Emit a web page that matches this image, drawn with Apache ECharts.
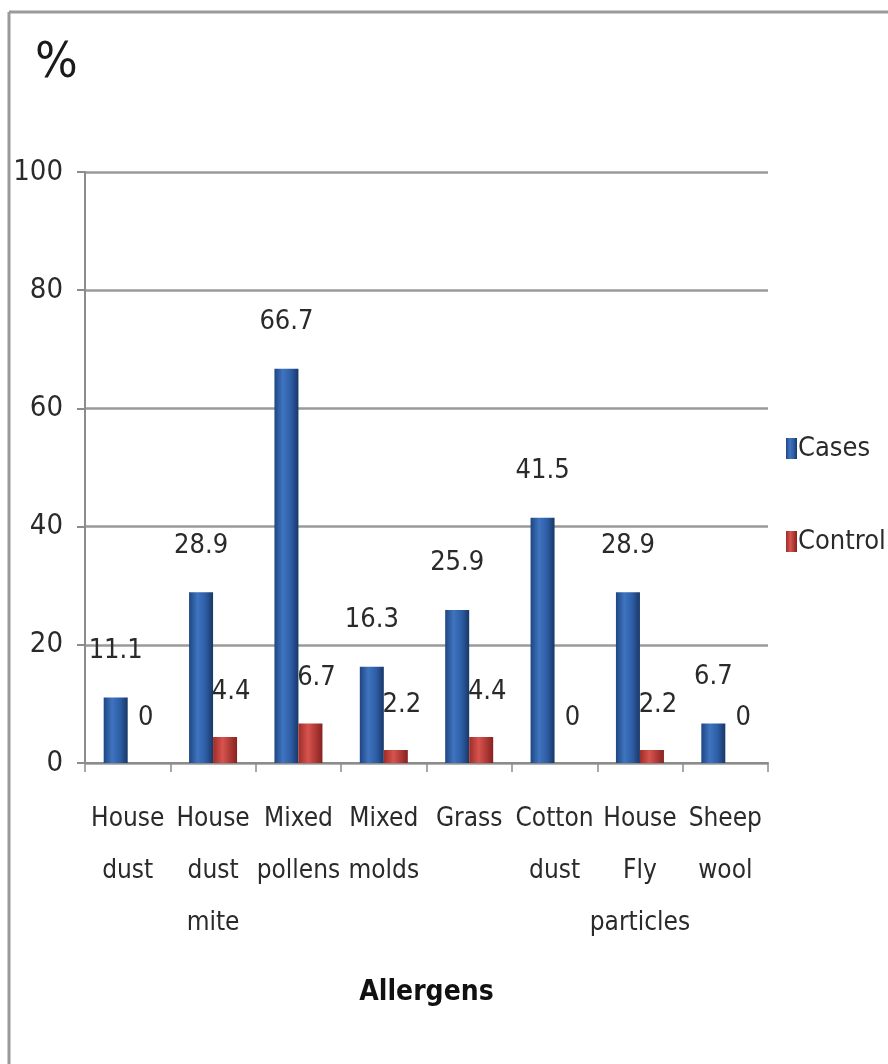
<!DOCTYPE html>
<html>
<head>
<meta charset="utf-8">
<script src="https://cdn.jsdelivr.net/npm/echarts@6/dist/echarts.min.js"></script>
<style>
  html, body { margin: 0; padding: 0; background: #fff; }
  #main { width: 888px; height: 1064px; }
</style>
</head>
<body>
<div id="main"></div>
<script>
// allergen categories (multi-line labels as in the original)
const categories = [
  'House\ndust',
  'House\ndust\nmite',
  'Mixed\npollens',
  'Mixed\nmolds',
  'Grass',
  'Cotton\ndust',
  'House\nFly\nparticles',
  'Sheep\nwool'
];
const casesData = [11.1, 28.9, 66.7, 16.3, 25.9, 41.5, 28.9, 6.7];
const controlData = [0, 4.4, 6.7, 2.2, 4.4, 0, 2.2, 0];
const yTicks = [0, 20, 40, 60, 80, 100];

const FONT = '"Liberation Sans Narrow", "DejaVu Sans Condensed", "Liberation Sans", sans-serif';

var chartDom = document.getElementById('main');
var myChart = echarts.init(chartDom);
var option;

const blueFill = new echarts.graphic.LinearGradient(0, 0, 1, 0, [
  { offset: 0, color: '#1e4682' },
  { offset: 0.35, color: '#3f74c0' },
  { offset: 0.7, color: '#2d5ca3' },
  { offset: 1, color: '#183766' }
]);
const redFill = new echarts.graphic.LinearGradient(0, 0, 1, 0, [
  { offset: 0, color: '#9e2d29' },
  { offset: 0.4, color: '#d8534e' },
  { offset: 1, color: '#87221f' }
]);

option = {
  backgroundColor: '#fff',
  animation: false,
  textStyle: { fontFamily: FONT },
  title: {
    text: '%',
    left: 30,
    top: 34,
    textStyle: { fontFamily: FONT, fontSize: 50, fontWeight: 'normal', color: '#1a1a1a' }
  },
  // frame of the original picture (top and left edges)
  graphic: [
    { type: 'line', shape: { x1: 9, y1: 12, x2: 888, y2: 12 }, style: { stroke: '#9a9a9a', lineWidth: 3 } },
    { type: 'line', shape: { x1: 9, y1: 12, x2: 9, y2: 1064 }, style: { stroke: '#9a9a9a', lineWidth: 3 } }
  ],
  legend: {
    orient: 'vertical',
    left: 781,
    top: 430,
    itemWidth: 11,
    itemHeight: 21,
    itemGap: 66,
    textStyle: { fontFamily: FONT, fontSize: 27, color: '#2a2a2a', padding: [0, 0, 0, -4] },
    data: [
      { name: 'Cases', icon: 'rect' },
      { name: 'Control', icon: 'rect' }
    ]
  },
  grid: {
    left: 85,
    right: 120,
    top: 172,
    bottom: 301
  },
  xAxis: {
    type: 'category',
    data: categories,
    name: 'Allergens',
    nameLocation: 'middle',
    nameGap: 216,
    nameTextStyle: { fontFamily: FONT, fontSize: 28, fontWeight: 'bold', color: '#111' },
    axisLine: { lineStyle: { color: '#8c8c8c', width: 2 } },
    axisTick: { show: true, length: 9, lineStyle: { color: '#8c8c8c', width: 1.5 } },
    axisLabel: {
      interval: 0,
      margin: 30,
      fontSize: 26,
      lineHeight: 52,
      color: '#2a2a2a',
      fontFamily: FONT
    }
  },
  yAxis: {
    type: 'value',
    min: 0,
    max: 100,
    interval: 20,
    axisLine: { show: true, lineStyle: { color: '#8c8c8c', width: 2 } },
    axisTick: { show: true, length: 8, lineStyle: { color: '#8c8c8c', width: 2 } },
    splitLine: { lineStyle: { color: '#9a9a9a', width: 2.5 } },
    axisLabel: {
      margin: 22,
      fontSize: 29,
      color: '#2a2a2a',
      fontFamily: FONT,
      formatter: function (v) { return yTicks.indexOf(v) >= 0 ? String(v) : ''; }
    }
  },
  series: [
    {
      name: 'Cases',
      type: 'bar',
      barWidth: 24,
      barGap: '0%',
      itemStyle: { color: blueFill },
      label: {
        show: true,
        position: 'top',
        distance: 33,
        fontSize: 27,
        color: '#2a2a2a',
        fontFamily: FONT
      },
      data: casesData
    },
    {
      name: 'Control',
      type: 'bar',
      barWidth: 24,
      itemStyle: { color: redFill },
      label: {
        show: true,
        position: 'top',
        distance: 32,
        offset: [6, 0],
        fontSize: 27,
        color: '#2a2a2a',
        fontFamily: FONT
      },
      data: controlData
    }
  ]
};

option && myChart.setOption(option);
</script>
</body>
</html>
